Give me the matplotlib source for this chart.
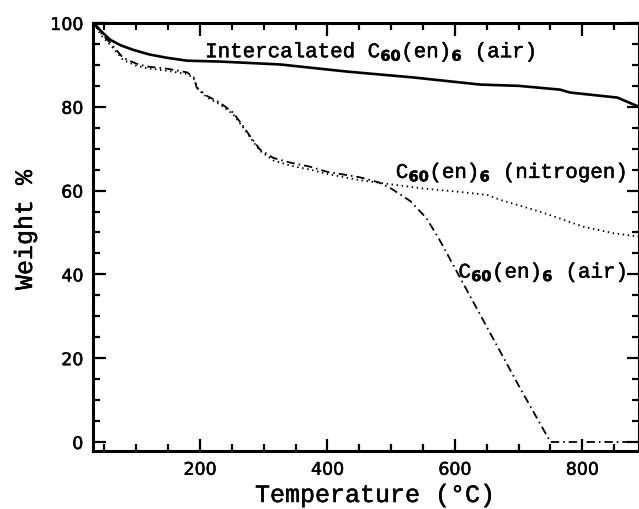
import matplotlib
matplotlib.use("Agg")
import matplotlib.pyplot as plt
import matplotlib.patheffects as pe
from matplotlib.ticker import MultipleLocator

plt.rcParams['mathtext.fontset'] = 'custom'
plt.rcParams['mathtext.rm'] = 'DejaVu Sans:bold'
plt.rcParams['mathtext.it'] = 'DejaVu Sans:bold'
plt.rcParams['mathtext.bf'] = 'DejaVu Sans:bold'

# Intercalated C60(en)6 in air (solid)
t_int = [33, 45, 59, 75, 95, 120, 148, 180, 231, 326, 431, 535, 640, 700, 765, 781, 855, 889]
w_int = [100, 98, 96, 94.7, 93.6, 92.5, 91.7, 91.0, 90.8, 90.1, 88.4, 87.0, 85.3, 85.0, 84.1, 83.4, 82.2, 80.0]

# C60(en)6 in air (dash-dot)
t_air = [33, 45, 59, 79, 100, 117, 148, 180, 190, 195, 211, 231, 252, 268, 279, 294, 315, 341, 373,
         399, 450, 480, 500, 530, 555, 575, 600, 650, 700, 750, 889]
w_air = [100, 97.5, 95.3, 91.7, 90.3, 89.6, 89.1, 88.2, 87.0, 84.5, 82.6, 81.0, 78.6, 75.3, 72.9, 69.8,
         67.8, 66.7, 65.7, 64.5, 63.2, 62.0, 60.5, 57.5, 53.5, 48.5, 41.5, 27.5, 13.5, 0, 0]

# C60(en)6 in nitrogen (dotted)
t_n2 = [33, 45, 59, 79, 100, 117, 148, 180, 190, 198, 211, 231, 252, 268, 279, 294, 315, 341, 373,
        399, 450, 500, 550, 600, 650, 671, 700, 739, 801, 850, 889]
w_n2 = [100, 97, 94.8, 91.2, 89.8, 89.2, 88.6, 87.8, 86.8, 84.0, 82.2, 80.6, 78.2, 75.0, 72.6, 69.5,
        67.2, 66.0, 65.0, 64.0, 62.5, 61.5, 60.5, 59.8, 59.0, 57.8, 56.5, 54.7, 51.4, 49.8, 49.0]

x_ticks = [200, 400, 600, 800]
y_ticks = [0, 20, 40, 60, 80, 100]

fig = plt.figure(figsize=(6.39, 5.09), dpi=100)
ax = fig.add_axes([93 / 639, 1 - 451 / 509, 1 - 93 / 639, (451 - 23) / 509])

ax.plot(t_int, w_int, color='black', lw=1.9, solid_capstyle='butt')
ax.plot(t_air, w_air, color='black', lw=1.3, dashes=[4.6, 2.2, 0.9, 2.2])
ax.plot(t_n2, w_n2, color='black', lw=1.3, linestyle=(0, (0.8, 2.0)))

ax.set_xlim(32, 889)
ax.set_ylim(-2.15, 100)
ax.set_xticks(x_ticks)
ax.set_yticks(y_ticks)
ax.xaxis.set_minor_locator(MultipleLocator(50))
ax.yaxis.set_minor_locator(MultipleLocator(5))
ax.tick_params(which='both', direction='in', top=True, right=True, width=1.6, color='black')
ax.tick_params(which='major', length=9)
ax.tick_params(which='minor', length=5)
ax.tick_params(axis='both', labelsize=12.5, pad=7)
for lab in ax.get_xticklabels() + ax.get_yticklabels():
    lab.set_family('DejaVu Sans')
    lab.set_path_effects([pe.withStroke(linewidth=0.35, foreground='black')])
for s in ax.spines.values():
    s.set_linewidth(2.2)

mono = 'Liberation Mono'
thick = [pe.withStroke(linewidth=0.35, foreground='black')]
ax.text(208, 91.8, 'Intercalated C$_{60}$(en)$_{6}$ (air)', family=mono, fontsize=15,
        va='baseline', ha='left', path_effects=thick)
ax.text(870, 63.0, 'C$_{60}$(en)$_{6}$ (nitrogen)', family=mono, fontsize=15,
        va='baseline', ha='right', path_effects=thick)
ax.text(870, 39.2, 'C$_{60}$(en)$_{6}$ (air)', family=mono, fontsize=15,
        va='baseline', ha='right', path_effects=thick)

fig.text(375 / 639, 1 - 495 / 509, 'Temperature (°C)', family=mono, fontsize=18,
         ha='center', va='center', path_effects=thick)
fig.text(25 / 639, 1 - 230 / 509, 'Weight %', family=mono, fontsize=18,
         ha='center', va='center', rotation=90, path_effects=thick)

fig.savefig('out.png', dpi=100)
